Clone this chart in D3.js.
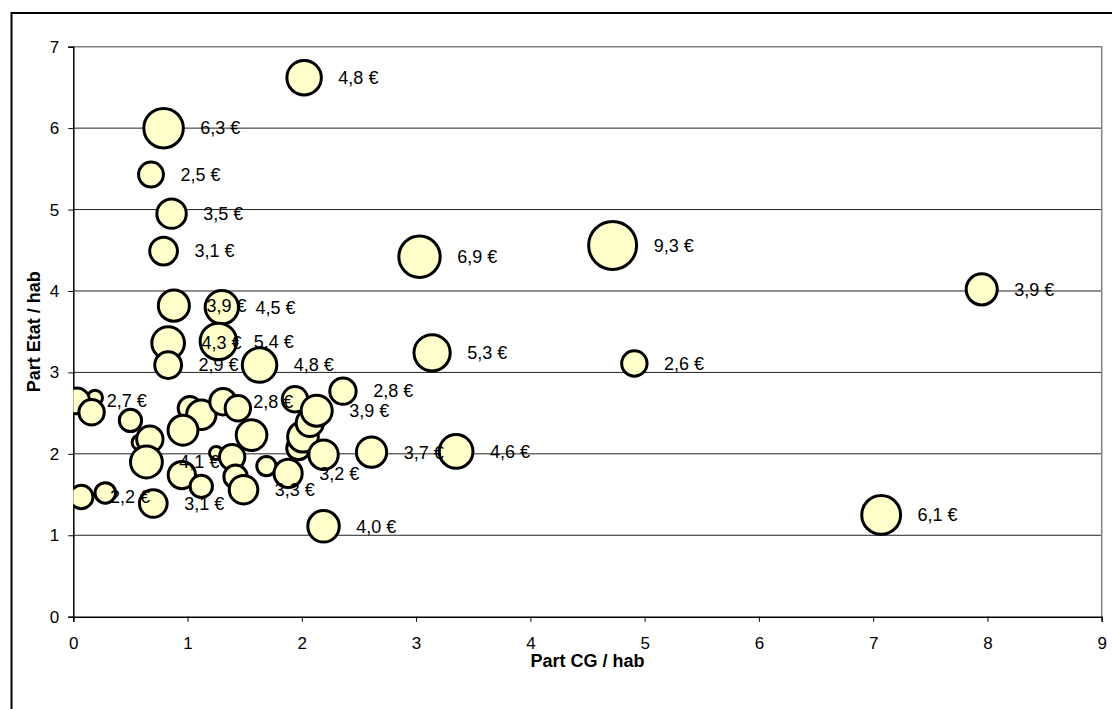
<!DOCTYPE html>
<html>
<head>
<meta charset="utf-8">
<script src="https://cdn.jsdelivr.net/npm/d3@7"></script>
<style>
  body { margin: 0; background: #fff; }
  svg { display: block; }
  text { font-family: "Liberation Sans", Arial, sans-serif; fill: #000; }
</style>
</head>
<body>
<svg id="chart" width="1112" height="709"></svg>
<script>
// data
var partCG   = [0.19, 0.58, 1.25, 0.03, 0.16, 0.50, 0.67, 0.64, 0.07, 0.28, 0.70,
                1.02, 1.12, 0.96, 1.31, 1.44, 1.56, 0.95, 1.12, 1.39, 1.42, 1.49, 1.69,
                1.94, 1.97, 2.01, 2.07, 2.13, 2.19, 1.88, 2.19, 2.36, 2.61, 3.35,
                0.88, 1.30, 0.83, 1.27, 0.83, 1.63,
                2.02, 0.79, 0.68, 0.86, 0.79, 3.03, 4.72, 7.95, 4.91, 3.14, 7.07];
var partEtat = [2.69, 2.14, 2.01, 2.65, 2.51, 2.41, 2.18, 1.90, 1.47, 1.52, 1.39,
                2.56, 2.48, 2.29, 2.64, 2.56, 2.23, 1.74, 1.60, 1.96, 1.72, 1.56, 1.85,
                2.67, 2.07, 2.21, 2.38, 2.53, 1.99, 1.76, 1.11, 2.77, 2.02, 2.03,
                3.82, 3.80, 3.36, 3.38, 3.09, 3.09,
                6.62, 6.00, 5.43, 4.95, 4.49, 4.42, 4.56, 4.02, 3.11, 3.24, 1.25];
var montant  = [0.9, 0.9, 0.7, 2.7, 2.6, 2.0, 2.8, 4.1, 2.2, 1.7, 3.1,
                2.2, 3.5, 3.6, 2.8, 2.6, 3.8, 3.0, 2.0, 2.6, 2.2, 3.3, 1.5,
                2.6, 2.2, 3.8, 3.0, 3.9, 3.5, 3.2, 4.0, 2.8, 3.7, 4.6,
                3.9, 4.5, 4.3, 5.4, 2.9, 4.8,
                4.8, 6.3, 2.5, 3.5, 3.1, 6.9, 9.3, 3.9, 2.6, 5.3, 6.1];
var afficheEtiquette = [0, 0, 0, 1, 0, 0, 0, 1, 1, 0, 1,
                0, 0, 0, 1, 0, 0, 0, 0, 0, 0, 1, 0,
                0, 0, 0, 0, 1, 0, 1, 1, 1, 1, 1,
                1, 1, 1, 1, 1, 1,
                1, 1, 1, 1, 1, 1, 1, 1, 1, 1, 1];
var ticksX = [0, 1, 2, 3, 4, 5, 6, 7, 8, 9];
var ticksY = [0, 1, 2, 3, 4, 5, 6, 7];

var points = partCG.map(function(d, i) {
    return {x: d, y: partEtat[i], v: montant[i], lab: afficheEtiquette[i]};
});

var svg = d3.select('#chart');

// outer frame (cut by the picture at right and bottom)
svg.append('rect')
    .attr('x', 11.5).attr('y', 13)
    .attr('width', 1200).attr('height', 800)
    .attr('fill', '#fff')
    .attr('stroke', '#000')
    .attr('stroke-width', 2);

var x = d3.scaleLinear().domain([0, 9]).range([73.3, 1101.7]);
var y = d3.scaleLinear().domain([0, 7]).range([616.7, 46.7]);
var r = d3.scaleSqrt().domain([0, 9.3]).range([0, 24]);

svg.append('clipPath').attr('id', 'plotclip')
    .append('rect')
    .attr('x', x(0)).attr('y', y(7))
    .attr('width', x(9) - x(0)).attr('height', y(0) - y(7));

// gridlines
svg.append('g').selectAll('line')
    .data(ticksY.filter(function(d) { return d > 0 && d < 7; }))
    .enter().append('line')
    .attr('x1', x(0)).attr('x2', x(9))
    .attr('y1', function(d) { return y(d); })
    .attr('y2', function(d) { return y(d); })
    .attr('stroke', '#222')
    .attr('stroke-width', 1);

// plot area border top / right
svg.append('path')
    .attr('d', 'M' + x(0) + ',' + y(7) + 'H' + x(9) + 'V' + y(0))
    .attr('fill', 'none')
    .attr('stroke', '#808080')
    .attr('stroke-width', 1.5);

// axes
var xAxis = svg.append('g')
    .attr('transform', 'translate(0,' + y(0) + ')')
    .call(d3.axisBottom(x).tickValues(ticksX).tickFormat(d3.format('d')).tickSize(5).tickPadding(15));
var yAxis = svg.append('g')
    .attr('transform', 'translate(' + x(0) + ',0)')
    .call(d3.axisLeft(y).tickValues(ticksY).tickFormat(d3.format('d')).tickSize(5).tickPadding(9));

[xAxis, yAxis].forEach(function(a) {
    a.select('.domain').attr('stroke', '#000').attr('stroke-width', 1.5);
    a.selectAll('.tick line').attr('stroke', '#000');
    a.selectAll('.tick text')
        .style('font-family', '"Liberation Sans", Arial, sans-serif')
        .style('font-size', '17px')
        .attr('fill', '#000');
});

// bubbles
svg.append('g')
    .attr('clip-path', 'url(#plotclip)')
    .selectAll('circle')
    .data(points)
    .enter().append('circle')
    .attr('cx', function(d) { return x(d.x); })
    .attr('cy', function(d) { return y(d.y); })
    .attr('r', function(d) { return r(d.v); })
    .attr('fill', '#FFFFCC')
    .attr('stroke', '#000')
    .attr('stroke-width', 3);

// labels
svg.append('g').selectAll('text')
    .data(points.filter(function(d) { return d.lab; }))
    .enter().append('text')
    .attr('x', function(d) { return x(d.x) + r(d.v) + 17; })
    .attr('y', function(d) { return y(d.y); })
    .attr('dy', '0.35em')
    .style('font-size', '18px')
    .text(function(d) { return d3.format('.1f')(d.v).replace('.', ',') + ' €'; });

// axis titles
svg.append('text')
    .attr('x', (x(0) + x(9)) / 2)
    .attr('y', 667)
    .attr('text-anchor', 'middle')
    .style('font-size', '18px')
    .style('font-weight', 'bold')
    .text('Part CG / hab');

svg.append('text')
    .attr('transform', 'translate(34,' + (y(0) + y(7)) / 2 + ') rotate(-90)')
    .attr('text-anchor', 'middle')
    .attr('dy', '0.35em')
    .style('font-size', '18px')
    .style('font-weight', 'bold')
    .text('Part Etat / hab');
</script>
</body>
</html>
